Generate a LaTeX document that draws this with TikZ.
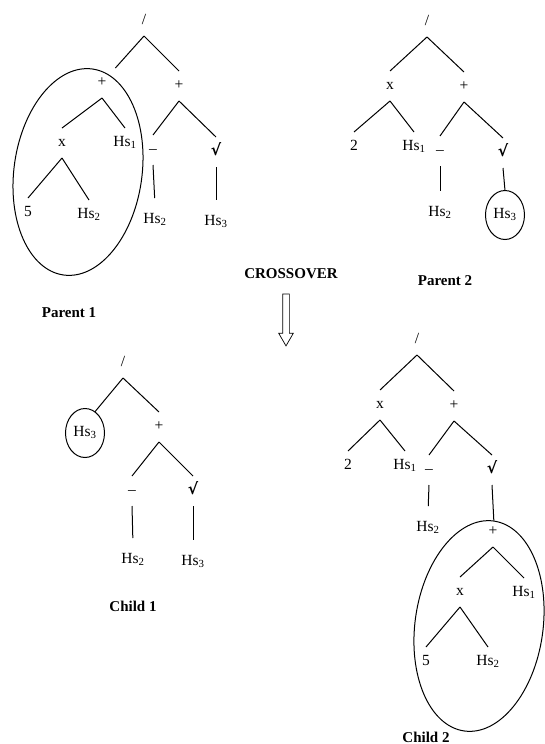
\documentclass[tikz,border=0pt]{standalone}
\usepackage{fontspec}
\setmainfont{Liberation Serif}
\newfontfamily\radfont{DejaVu Sans}
\usetikzlibrary{shapes.geometric, shapes.arrows}
\newcommand{\rad}{{\radfont\bfseries √}}

\begin{document}
\begin{tikzpicture}[x=1pt, y=-1pt, line width=1pt,
		lbl/.style={inner sep=1pt, outer sep=8pt, text height=9pt, text depth=3pt, font=\fontsize{15.5}{18}\selectfont},
		caption/.style={inner sep=1pt, font=\fontsize{15}{18}\selectfont\bfseries},
		stem/.style={shorten >=7pt}, % unary operators
		cut/.style={draw, ellipse, inner sep=0pt},
		ring/.style={draw, ellipse, inner sep=0pt, outer sep=0pt, minimum width=39, minimum height=49}
		]
		\useasboundingbox (0,0) rectangle (545,744);
		
		% Parent 1
		\node[lbl] (p1root) at (144,21) {/};
		\node[lbl] (p1plusA) at (102,83) {+};
		\node[lbl] (p1plusB) at (179,86) {+};
		\node[lbl] (p1x) at (62,143) {x};
		\node[lbl] (p1hsA) at (125,143) {Hs\textsubscript{1}};
		\node[lbl] (p1five) at (28,213) {5};
		\node[lbl] (p1hsB) at (89,215) {Hs\textsubscript{2}};
		\node[lbl] (p1minus) at (153,150) {–};
		\node[lbl] (p1sqrt) at (216,152) {\rad};
		\node[lbl] (p1hsC) at (155,220) {Hs\textsubscript{2}};
		\node[lbl] (p1hsD) at (216,222) {Hs\textsubscript{3}};
		\node[cut, rotate=-8, minimum width=128, minimum height=208] (p1cut) at (78,172) {};
		\node[caption] (p1name) at (69,313) {Parent 1};
		
		\draw (p1root.south) -- (p1plusA.north east);
		\draw (p1root.south) -- (p1plusB.north);
		\draw (p1plusA.south) -- (p1x.north);
		\draw (p1plusA.south) -- (p1hsA.north);
		\draw (p1x.south) -- (p1five.north);
		\draw (p1x.south) -- (p1hsB.north);
		\draw (p1plusB.south) -- (p1minus.north);
		\draw (p1plusB.south) -- (p1sqrt.north);
		\draw[stem] (p1minus.south) -- (p1hsC.north);
		\draw[stem] (p1sqrt.south) -- (p1hsD.north);
		
		% Parent 2
		\node[lbl] (p2root) at (427,22) {/};
		\node[lbl] (p2x) at (390,86) {x};
		\node[lbl] (p2plus) at (464,87) {+};
		\node[lbl] (p2two) at (354,147) {2};
		\node[lbl] (p2hsA) at (414,147) {Hs\textsubscript{1}};
		\node[lbl] (p2minus) at (440,151) {–};
		\node[lbl] (p2sqrt) at (503,153) {\rad};
		\node[lbl] (p2hsB) at (440,213) {Hs\textsubscript{2}};
		\node[lbl, ring] (p2hsC) at (505,215) {Hs\textsubscript{3}};
		\node[caption] (p2name) at (445,281) {Parent 2};
		
		\draw (p2root.south) -- (p2x.north);
		\draw (p2root.south) -- (p2plus.north);
		\draw (p2x.south) -- (p2two.north);
		\draw (p2x.south) -- (p2hsA.north);
		\draw (p2plus.south) -- (p2minus.north);
		\draw (p2plus.south) -- (p2sqrt.north);
		\draw[stem] (p2minus.south) -- (p2hsB.north);
		\draw (p2sqrt.south) -- (p2hsC.north);
		
		% Crossover
		\node[caption] (xover) at (291,274) {CROSSOVER};
		\node[draw, line width=0.7pt, single arrow, rotate=-90, inner sep=3pt, minimum height=52,
			single arrow head extend=4pt, single arrow tip angle=60] (xarrow) at (286,317) {};
		
		% Child 1
		\node[lbl] (c1root) at (123,363) {/};
		\node[lbl, ring] (c1hsA) at (85,433) {Hs\textsubscript{3}};
		\node[lbl] (c1plus) at (159,427) {+};
		\node[lbl] (c1minus) at (132,491) {–};
		\node[lbl] (c1sqrt) at (193,491) {\rad};
		\node[lbl] (c1hsB) at (133,560) {Hs\textsubscript{2}};
		\node[lbl] (c1hsC) at (193,562) {Hs\textsubscript{3}};
		\node[caption] (c1name) at (133,606) {Child 1};
		
		\draw (c1root.south) -- (c1hsA.65);
		\draw (c1root.south) -- (c1plus.north);
		\draw (c1plus.south) -- (c1minus.north);
		\draw (c1plus.south) -- (c1sqrt.north);
		\draw[stem] (c1minus.south) -- (c1hsB.north);
		\draw[stem] (c1sqrt.south) -- (c1hsC.north);
		
		% Child 2
		\node[lbl] (c2root) at (417,340) {/};
		\node[lbl] (c2x) at (380,405) {x};
		\node[lbl] (c2plusA) at (454,406) {+};
		\node[lbl] (c2two) at (348,466) {2};
		\node[lbl] (c2hsA) at (405,466) {Hs\textsubscript{1}};
		\node[lbl] (c2minus) at (429,470) {–};
		\node[lbl] (c2sqrt) at (492,470) {\rad};
		\node[lbl] (c2hsB) at (428,528) {Hs\textsubscript{2}};
		\node[lbl] (c2plusB) at (493,532) {+};
		\node[lbl] (c2xB) at (460,592) {x};
		\node[lbl] (c2hsC) at (524,593) {Hs\textsubscript{1}};
		\node[lbl] (c2five) at (426,662) {5};
		\node[lbl] (c2hsD) at (488,662) {Hs\textsubscript{2}};
		\node[cut, rotate=-8, minimum width=128, minimum height=212] (c2cut) at (479,626) {};
		\node[caption] (c2name) at (426,737) {Child 2};
		
		\draw (c2root.south) -- (c2x.north);
		\draw (c2root.south) -- (c2plusA.north);
		\draw (c2x.south) -- (c2two.north);
		\draw (c2x.south) -- (c2hsA.north);
		\draw (c2plusA.south) -- (c2minus.north);
		\draw (c2plusA.south) -- (c2sqrt.north);
		\draw[stem] (c2minus.south) -- (c2hsB.north);
		\draw (c2sqrt.south) -- (c2cut.north);
		\draw (c2plusB.south) -- (c2xB.north);
		\draw (c2plusB.south) -- (c2hsC.north);
		\draw (c2xB.south) -- (c2five.north);
		\draw (c2xB.south) -- (c2hsD.north);
	\end{tikzpicture}
\end{document}
